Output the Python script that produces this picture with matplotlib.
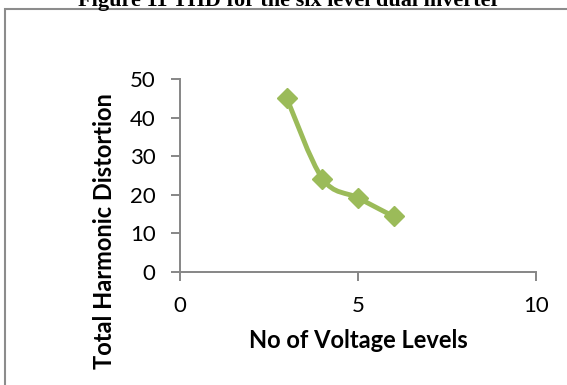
import numpy as np
import matplotlib
matplotlib.use('Agg')
import matplotlib.pyplot as plt
from matplotlib.path import Path
from matplotlib.patches import PathPatch, Rectangle

levels = [3, 4, 5, 6]
thd = [45.0, 24.2, 19.2, 14.4]

xticks = [0, 5, 10]
yticks = [0, 10, 20, 30, 40, 50]

green = '#9BBB59'
grey = '#868686'


def smooth_path(x, y):
    # Catmull-Rom style bezier segments, like a spreadsheet "smoothed line"
    pts = np.column_stack([x, y]).astype(float)
    verts = [pts[0]]
    codes = [Path.MOVETO]
    n = len(pts)
    for i in range(n - 1):
        p0 = pts[max(i - 1, 0)]
        p1 = pts[i]
        p2 = pts[i + 1]
        p3 = pts[min(i + 2, n - 1)]
        c1 = p1 + (p2 - p0) / 6.0
        c2 = p2 - (p3 - p1) / 6.0
        verts += [c1, c2, p2]
        codes += [Path.CURVE4] * 3
    return Path(verts, codes)


fig = plt.figure(figsize=(5.67, 3.85), dpi=100)

# caption, partly cut off at the top edge
fig.text(289 / 567, 1 - 6 / 385, 'Figure 11 THD for the six level dual inverter',
         family='Liberation Serif', weight='bold', fontsize=16,
         ha='center', va='baseline')

# chart frame
fig.patches.append(Rectangle((5 / 567, -0.1), 1.2, 1 - 9 / 385 + 0.1,
                             transform=fig.transFigure, fill=False,
                             edgecolor='#8c8c8c', linewidth=1.5))

ax = fig.add_axes([180 / 567, 1 - 272 / 385, 356 / 567, 193 / 385])
ax.set_xlim(0, 10)
ax.set_ylim(0, 50)

ax.add_patch(PathPatch(smooth_path(levels, thd), fill=False,
                       edgecolor=green, linewidth=3.5, capstyle='round',
                       joinstyle='round', zorder=3))
ax.plot(levels, thd, linestyle='none', marker='D', markersize=10,
        color=green, markeredgecolor=green, zorder=4, clip_on=False)

for side in ['top', 'right']:
    ax.spines[side].set_visible(False)
for side in ['left', 'bottom']:
    ax.spines[side].set_color(grey)
    ax.spines[side].set_linewidth(1.4)

ax.set_xticks(xticks)
ax.set_yticks(yticks)
ax.tick_params(axis='both', direction='out', color=grey, width=1.4,
               length=6.5, labelsize=16, labelcolor='black')
ax.tick_params(axis='y', pad=11)
ax.tick_params(axis='x', pad=11)
for lab in ax.get_xticklabels() + ax.get_yticklabels():
    lab.set_family('Lato')

fig.text(358 / 567, 1 - 348 / 385, 'No of Voltage Levels', family='Lato',
         weight='bold', fontsize=17, ha='center', va='baseline')
fig.text(105 / 567, 1 - 231 / 385, 'Total Harmonic Distortion', family='Lato',
         weight='bold', fontsize=17, ha='center', va='center', rotation=90)

plt.savefig('out.png', dpi=100)
plt.close(fig)
